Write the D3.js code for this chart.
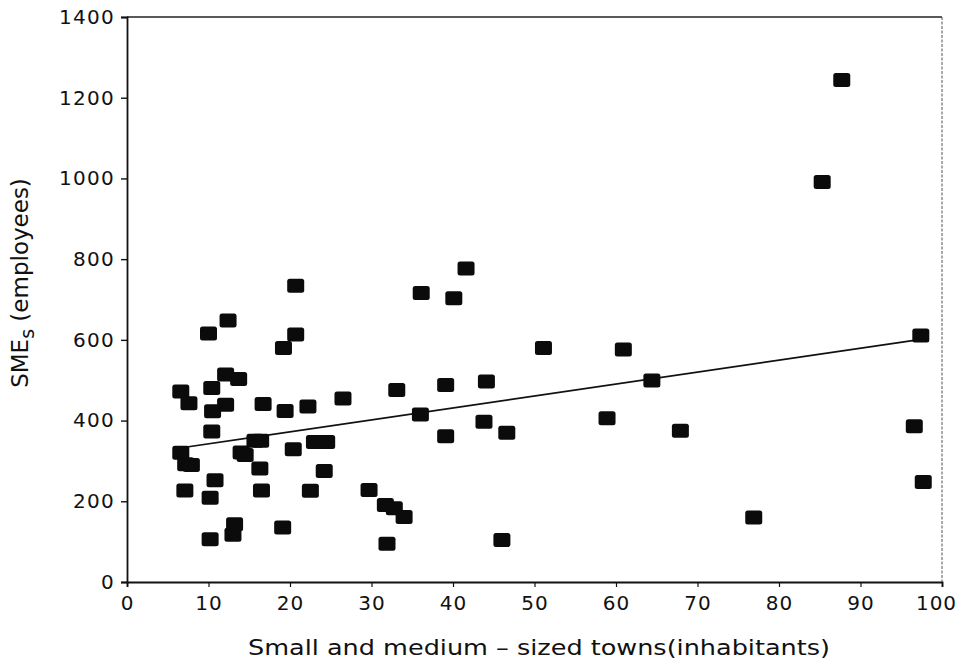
<!DOCTYPE html>
<html>
<head>
<meta charset="utf-8">
<script src="https://cdn.jsdelivr.net/npm/d3@7/dist/d3.min.js"></script>
<style>
  html, body { margin: 0; padding: 0; background: #ffffff; }
  svg { display: block; }
  text { font-family: "DejaVu Sans", "Open Sans", sans-serif; fill: #111; }
</style>
</head>
<body>
<script>
// ---- data ----
const towns = [6.6, 7.6, 6.6, 7.2, 7.9, 7.1, 10.0, 12.4, 12.1, 13.7, 10.4, 12.1, 10.5, 10.4, 10.8, 10.2, 10.2,
  13.2, 13.0, 14.0, 14.5, 15.7, 16.4, 16.7, 16.3, 16.5, 19.1, 19.2, 20.7, 20.7, 19.4, 20.4, 22.2, 23.0, 24.5,
  24.2, 22.5, 26.5, 29.7, 31.7, 32.8, 34.0, 31.9, 33.1, 36.0, 36.1, 40.1, 41.6, 39.1, 39.1, 43.8, 44.1, 46.6,
  46.0, 51.1, 60.9, 64.4, 58.9, 67.9, 76.9, 85.3, 87.7, 97.4, 96.6, 97.7];
const smes = [472, 443, 320, 292, 290, 227, 616, 648, 514, 503, 481, 439, 423, 373, 252, 209, 106,
  143, 117, 321, 315, 350, 350, 441, 281, 227, 135, 580, 613, 734, 424, 329, 435, 347, 347,
  275, 226, 455, 228, 191, 183, 161, 95, 476, 415, 716, 703, 777, 488, 361, 397, 497, 370,
  104, 580, 576, 499, 406, 375, 160, 991, 1244, 611, 386, 248];
const fitX = [6.5, 97.0];
const fitY = [332, 600];
const xTicks = [0, 10, 20, 30, 40, 50, 60, 70, 80, 90, 100];
const yTicks = [0, 200, 400, 600, 800, 1000, 1200, 1400];
const xTitle = "Small and medium \u2013 sized towns(inhabitants)";
const yTitleMain = "SME";
const yTitleSub = "s";
const yTitleRest = " (employees)";

// ---- layout ----
const W = 957, H = 662;
const mLeft = 127, mRight = 942, mTop = 17, mBottom = 582;

const svg = d3.select("body").append("svg").attr("width", W).attr("height", H);

const x = d3.scaleLinear().domain([0, 100]).range([mLeft, mRight]);
const y = d3.scaleLinear().domain([0, 1400]).range([mBottom, mTop]);

// frame: top and right borders
svg.append("line").attr("x1", mLeft).attr("x2", mRight).attr("y1", mTop).attr("y2", mTop)
  .attr("stroke", "#222").attr("stroke-width", 1.4);
svg.append("line").attr("x1", mRight).attr("x2", mRight).attr("y1", mTop).attr("y2", mBottom)
  .attr("stroke", "#555").attr("stroke-width", 1).attr("stroke-dasharray", "3,1.5");

// axes
const yAxis = d3.axisLeft(y).tickValues(yTicks).tickSize(6).tickPadding(6).tickFormat(d3.format("d"));
const gy = svg.append("g").attr("transform", `translate(${mLeft},0)`).call(yAxis);
gy.select(".domain").attr("stroke", "#111").attr("stroke-width", 1.8);
gy.selectAll(".tick line").attr("stroke", "#111").attr("stroke-width", 1.4);
gy.selectAll(".tick text").attr("font-size", 20).attr("letter-spacing", 1.3).attr("fill", "#1a1a1a")
  .attr("font-family", "'DejaVu Sans', sans-serif");

const xAxis = d3.axisBottom(x).tickValues(xTicks).tickSize(5).tickPadding(9).tickFormat(d3.format("d"));
const gx = svg.append("g").attr("transform", `translate(0,${mBottom})`).call(xAxis);
gx.select(".domain").attr("stroke", "#111").attr("stroke-width", 1.8);
gx.selectAll(".tick line").attr("stroke", "#111").attr("stroke-width", 1.2);
gx.selectAll(".tick text").attr("font-size", 20).attr("letter-spacing", 1).attr("fill", "#1a1a1a")
  .attr("font-family", "'DejaVu Sans', sans-serif")
  .attr("dx", d => d === 100 ? -6 : 0);

// regression line
svg.append("line")
  .attr("x1", x(fitX[0])).attr("y1", y(fitY[0]))
  .attr("x2", x(fitX[1])).attr("y2", y(fitY[1]))
  .attr("stroke", "#111").attr("stroke-width", 1.6);

// points: filled rounded squares
const mw = 17, mh = 14;
svg.append("g").selectAll("rect")
  .data(towns.map((t, i) => ({ t, v: smes[i] })))
  .join("rect")
  .attr("x", d => x(d.t) - mw / 2)
  .attr("y", d => y(d.v) - mh / 2)
  .attr("width", mw).attr("height", mh)
  .attr("rx", 2.5).attr("ry", 2.5)
  .attr("fill", "#0b0b0b");

// titles
svg.append("text")
  .attr("x", (248 + 830) / 2).attr("y", 655)
  .attr("text-anchor", "middle")
  .attr("font-size", 22)
  .attr("textLength", 582).attr("lengthAdjust", "spacingAndGlyphs")
  .text(xTitle);

const yt = svg.append("text")
  .attr("transform", `translate(28,283) rotate(-90)`)
  .attr("text-anchor", "middle")
  .attr("font-size", 23);
yt.append("tspan").text(yTitleMain);
yt.append("tspan").attr("dy", 6).attr("font-size", 19).text(yTitleSub);
yt.append("tspan").attr("dy", -6).text(yTitleRest);
</script>
</body>
</html>
